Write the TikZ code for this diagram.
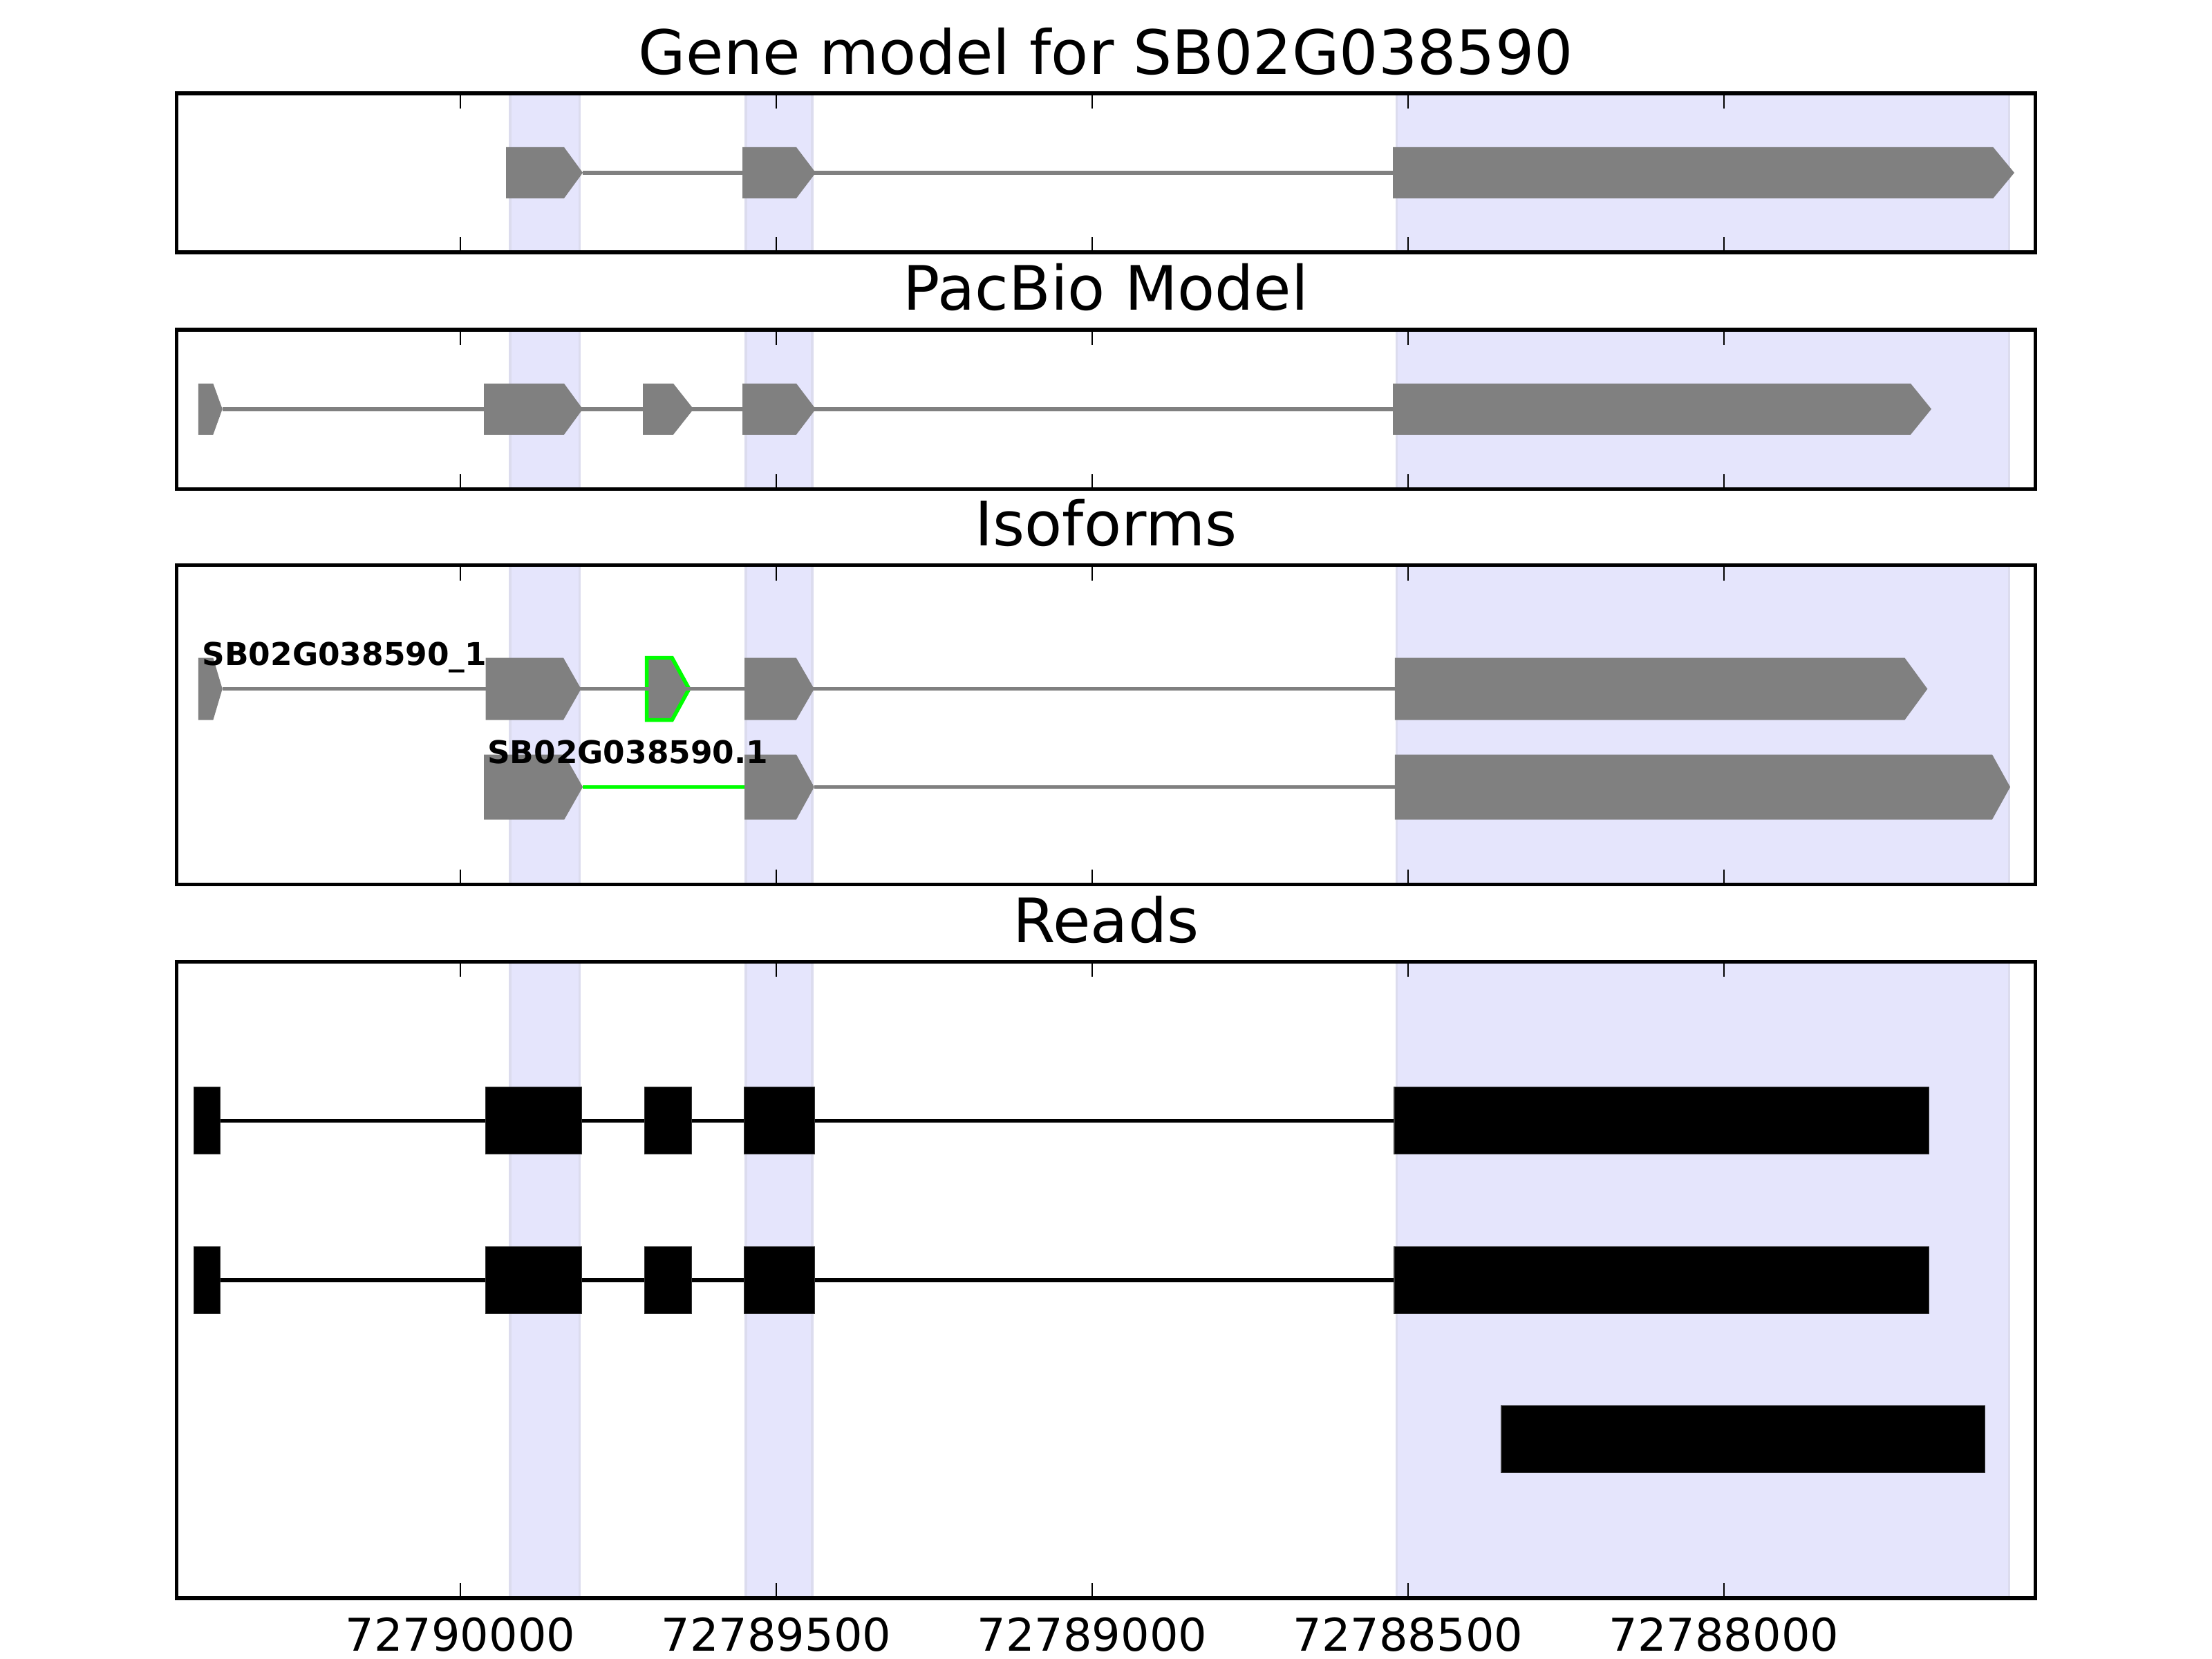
\documentclass[tikz,border=0pt]{standalone}
\usepackage{fontspec}
\setmainfont{DejaVu Sans}
\definecolor{bandblue}{RGB}{229,229,252}
\definecolor{bandedge}{RGB}{220,220,238}
\definecolor{exongray}{RGB}{128,128,128}
\definecolor{isogreen}{RGB}{0,255,0}

\begin{document}
\begin{tikzpicture}[x=0.5804cm, y=-0.00635cm,
  panel/.style={draw, line width=1pt},
  band/.style={fill=bandblue, draw=bandedge, line width=0.6pt},
  tickmark/.style={line width=0.5pt},
  exon/.style={fill=exongray},
  intron/.style={draw=exongray, line width=1pt},
  readexon/.style={fill=black, draw=black!80, line width=0.2pt},
  readline/.style={draw=black, line width=1pt},
  title/.style={anchor=base, inner sep=0pt, font=\fontsize{16}{19}\selectfont},
  ticklabel/.style={anchor=base, inner sep=0pt, font=\fontsize{11.8}{14}\selectfont},
  isolabel/.style={anchor=base west, inner sep=0pt, font=\fontsize{8.2}{10}\selectfont\bfseries}]

  \useasboundingbox (-7.287,0) rectangle (27.724,2400);

  % Titles
  \node[title] (T1) at (10.218,108) {Gene model for SB02G038590};
  \node[title] (T2) at (10.218,449) {PacBio Model};
  \node[title] (T3) at (10.218,790) {Isoforms};
  \node[title] (T4) at (10.218,1364) {Reads};

  % Shaded exon bands
  \fill[band] (0.788,135) rectangle (1.887,365);
  \fill[band] (4.519,135) rectangle (5.569,365);
  \fill[band] (14.82,135) rectangle (24.515,365);
  \fill[band] (0.788,477) rectangle (1.887,708);
  \fill[band] (4.519,477) rectangle (5.569,708);
  \fill[band] (14.82,477) rectangle (24.515,708);
  \fill[band] (0.788,818) rectangle (1.887,1280);
  \fill[band] (4.519,818) rectangle (5.569,1280);
  \fill[band] (14.82,818) rectangle (24.515,1280);
  \fill[band] (0.788,1392) rectangle (1.887,2313);
  \fill[band] (4.519,1392) rectangle (5.569,2313);
  \fill[band] (14.82,1392) rectangle (24.515,2313);

  % Gene model
  \fill[exon] (0.722,213) -- (1.641,213) -- (1.937,250) -- (1.641,287) -- (0.722,287) -- cycle;
  \fill[exon] (4.464,213) -- (5.317,213) -- (5.624,250) -- (5.317,287) -- (4.464,287) -- cycle;
  \fill[exon] (14.759,213) -- (24.26,213) -- (24.595,250) -- (24.26,287) -- (14.759,287) -- cycle;
  \draw[intron] (1.937,250) -- (14.759,250);

  % PacBio model
  \fill[exon] (-4.147,555) -- (-3.913,555) -- (-3.767,592) -- (-3.913,629) -- (-4.147,629) -- cycle;
  \fill[exon] (0.372,555) -- (1.641,555) -- (1.937,592) -- (1.641,629) -- (0.372,629) -- cycle;
  \fill[exon] (2.89,555) -- (3.37,555) -- (3.69,592) -- (3.37,629) -- (2.89,629) -- cycle;
  \fill[exon] (4.464,555) -- (5.317,555) -- (5.624,592) -- (5.317,629) -- (4.464,629) -- cycle;
  \fill[exon] (14.759,555) -- (22.954,555) -- (23.282,592) -- (22.954,629) -- (14.759,629) -- cycle;
  \draw[intron] (-3.767,592) -- (14.759,592);

  % Isoforms, first row
  \fill[exon] (-4.147,952) -- (-3.913,952) -- (-3.767,997) -- (-3.913,1042) -- (-4.147,1042) -- cycle;
  \fill[exon] (0.40,952) -- (1.63,952) -- (1.91,997) -- (1.63,1042) -- (0.40,1042) -- cycle;
  \filldraw[exon, draw=isogreen, line width=1pt] (2.95,952) -- (3.35,952) -- (3.62,997) -- (3.35,1042) -- (2.95,1042) -- cycle;
  \fill[exon] (4.497,952) -- (5.315,952) -- (5.60,997) -- (5.315,1042) -- (4.497,1042) -- cycle;
  \fill[exon] (14.79,952) -- (22.86,952) -- (23.22,997) -- (22.86,1042) -- (14.79,1042) -- cycle;
  \draw[intron] (-3.767,997) -- (14.79,997);

  % Isoforms, second row
  \fill[exon] (0.374,1092) -- (1.645,1092) -- (1.937,1139) -- (1.645,1186) -- (0.374,1186) -- cycle;
  \fill[exon] (4.497,1092) -- (5.317,1092) -- (5.60,1139) -- (5.317,1186) -- (4.497,1186) -- cycle;
  \fill[exon] (14.79,1092) -- (24.245,1092) -- (24.53,1139) -- (24.245,1186) -- (14.79,1186) -- cycle;
  \draw[draw=isogreen, line width=1pt] (1.937,1139) -- (4.497,1139);
  \draw[intron] (5.60,1139) -- (14.79,1139);

  % Isoform labels
  \node[isolabel] (N1) at (-4.097,963) {SB02G038590\_1};
  \node[isolabel] (N2) at (0.416,1105) {SB02G038590.1};

  % Reads
  \draw[readline] (-4.217,1622) -- (14.781,1622);
  \filldraw[readexon] (-4.217,1573.5) rectangle (-3.798,1670.5);
  \filldraw[readexon] (0.403,1573.5) rectangle (1.917,1670.5);
  \filldraw[readexon] (2.915,1573.5) rectangle (3.661,1670.5);
  \filldraw[readexon] (4.491,1573.5) rectangle (5.602,1670.5);
  \filldraw[readexon] (14.781,1573.5) rectangle (23.245,1670.5);

  \draw[readline] (-4.217,1853) -- (14.781,1853);
  \filldraw[readexon] (-4.217,1804.5) rectangle (-3.798,1901.5);
  \filldraw[readexon] (0.403,1804.5) rectangle (1.917,1901.5);
  \filldraw[readexon] (2.915,1804.5) rectangle (3.661,1901.5);
  \filldraw[readexon] (4.491,1804.5) rectangle (5.602,1901.5);
  \filldraw[readexon] (14.781,1804.5) rectangle (23.245,1901.5);

  \filldraw[readexon] (16.477,2034.5) rectangle (24.131,2131.5);

  % Tick marks
  \draw[tickmark] (0,135) -- ++(0,22) (5,135) -- ++(0,22) (10,135) -- ++(0,22) (15,135) -- ++(0,22) (20,135) -- ++(0,22)
                  (0,365) -- ++(0,-22) (5,365) -- ++(0,-22) (10,365) -- ++(0,-22) (15,365) -- ++(0,-22) (20,365) -- ++(0,-22);
  \draw[tickmark] (0,477) -- ++(0,22) (5,477) -- ++(0,22) (10,477) -- ++(0,22) (15,477) -- ++(0,22) (20,477) -- ++(0,22)
                  (0,708) -- ++(0,-22) (5,708) -- ++(0,-22) (10,708) -- ++(0,-22) (15,708) -- ++(0,-22) (20,708) -- ++(0,-22);
  \draw[tickmark] (0,818) -- ++(0,22) (5,818) -- ++(0,22) (10,818) -- ++(0,22) (15,818) -- ++(0,22) (20,818) -- ++(0,22)
                  (0,1280) -- ++(0,-22) (5,1280) -- ++(0,-22) (10,1280) -- ++(0,-22) (15,1280) -- ++(0,-22) (20,1280) -- ++(0,-22);
  \draw[tickmark] (0,1392) -- ++(0,22) (5,1392) -- ++(0,22) (10,1392) -- ++(0,22) (15,1392) -- ++(0,22) (20,1392) -- ++(0,22)
                  (0,2313) -- ++(0,-22) (5,2313) -- ++(0,-22) (10,2313) -- ++(0,-22) (15,2313) -- ++(0,-22) (20,2313) -- ++(0,-22);

  % Panel frames
  \draw[panel] (-4.491,135) rectangle (24.927,365);
  \draw[panel] (-4.491,477) rectangle (24.927,708);
  \draw[panel] (-4.491,818) rectangle (24.927,1280);
  \draw[panel] (-4.491,1392) rectangle (24.927,2313);

  % Tick labels
  \node[ticklabel] (L1) at (0,2389) {72790000};
  \node[ticklabel] (L2) at (5,2389) {72789500};
  \node[ticklabel] (L3) at (10,2389) {72789000};
  \node[ticklabel] (L4) at (15,2389) {72788500};
  \node[ticklabel] (L5) at (20,2389) {72788000};

\end{tikzpicture}
\end{document}
